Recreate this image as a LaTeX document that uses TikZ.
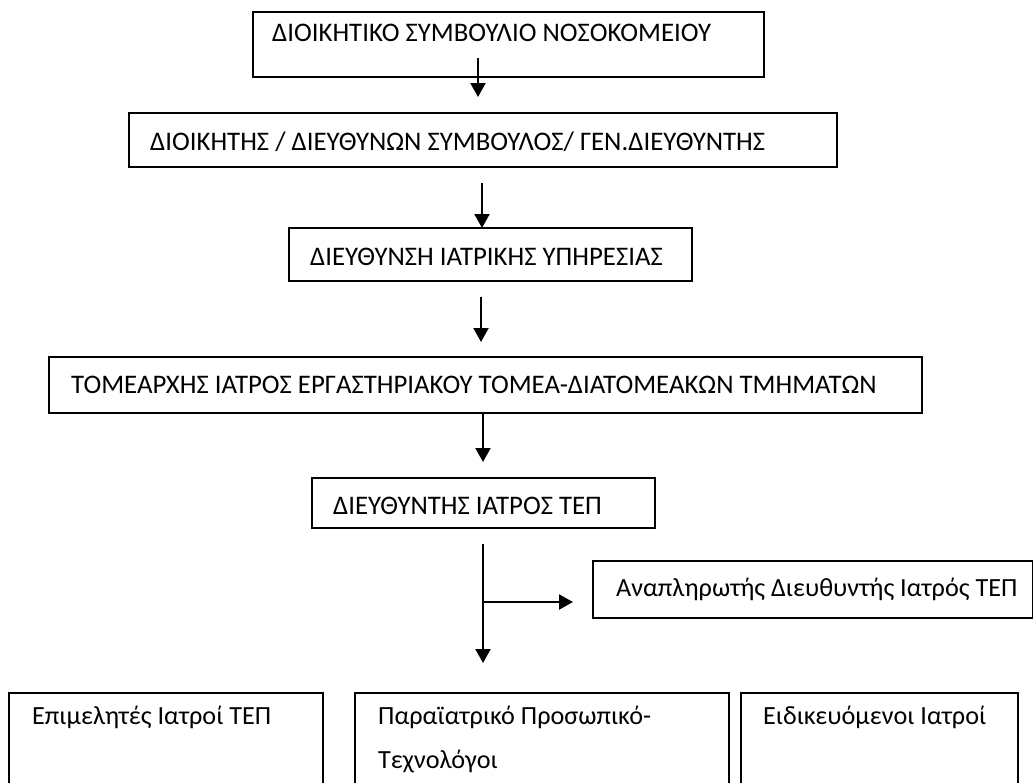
\documentclass[tikz,border=0pt]{standalone}
\usepackage{fontspec}
\setmainfont{Carlito}
\usetikzlibrary{arrows.meta}
\tikzset{
  x=1pt, y=-1pt,
  box/.style={draw=black, line width=1.8pt, anchor=north west, inner sep=0pt, outer sep=0pt},
  lbl/.style={anchor=base west, inner sep=0pt, font=\fontsize{26.8}{32}\selectfont},
  lbls/.style={anchor=base west, inner sep=0pt, font=\fontsize{26.2}{32}\selectfont},
  arr/.style={line width=2pt, -{Triangle[width=15pt,length=14pt]}}
}
\begin{document}
\begin{tikzpicture}
\useasboundingbox (0,0) rectangle (1033,782);
% boxes
\node[box, minimum width=511pt, minimum height=65pt] (b1) at (253,12) {};
\node[box, minimum width=708pt, minimum height=54pt] (b2) at (129,113) {};
\node[box, minimum width=403pt, minimum height=53pt] (b3) at (289,228) {};
\node[box, minimum width=873pt, minimum height=56pt] (b4) at (49,357) {};
\node[box, minimum width=343pt, minimum height=50pt] (b5) at (312,478) {};
\node[box, minimum width=440pt, minimum height=57pt] (b6) at (593,561) {};
\node[box, minimum width=314pt, minimum height=110pt] (b7) at (9,693) {};
\node[box, minimum width=374pt, minimum height=110pt] (b8) at (355,693) {};
\node[box, minimum width=277pt, minimum height=110pt] (b9) at (741,693) {};
% texts
\node[lbl] (t1) at (272,41) {ΔΙΟΙΚΗΤΙΚΟ ΣΥΜΒΟΥΛΙΟ ΝΟΣΟΚΟΜΕΙΟΥ};
\node[lbl] (t2) at (150,150) {ΔΙΟΙΚΗΤΗΣ / ΔΙΕΥΘΥΝΩΝ ΣΥΜΒΟΥΛΟΣ/ ΓΕΝ.ΔΙΕΥΘΥΝΤΗΣ};
\node[lbl] (t3) at (310,265) {ΔΙΕΥΘΥΝΣΗ ΙΑΤΡΙΚΗΣ ΥΠΗΡΕΣΙΑΣ};
\node[lbl] (t4) at (71,393) {ΤΟΜΕΑΡΧΗΣ ΙΑΤΡΟΣ ΕΡΓΑΣΤΗΡΙΑΚΟΥ ΤΟΜΕΑ-ΔΙΑΤΟΜΕΑΚΩΝ ΤΜΗΜΑΤΩΝ};
\node[lbl] (t5) at (333,514) {ΔΙΕΥΘΥΝΤΗΣ ΙΑΤΡΟΣ ΤΕΠ};
\node[lbls] (t6) at (616,596) {Αναπληρωτής Διευθυντής Ιατρός ΤΕΠ};
\node[lbls] (t7) at (32,724) {Επιμελητές Ιατροί ΤΕΠ};
\node[lbls] (t8) at (378,724) {Παραϊατρικό Προσωπικό-};
\node[lbls] (t8b) at (378,768) {Τεχνολόγοι};
\node[lbls] (t9) at (763,724) {Ειδικευόμενοι Ιατροί};
% connector end points
\coordinate (a1s) at (478,58);  \coordinate (a1e) at (478,97);
\coordinate (a2s) at (482,183); \coordinate (a2e) at (482,228);
\coordinate (a3s) at (481,297); \coordinate (a3e) at (481,342);
\coordinate (a4s) at (483,413); \coordinate (a4e) at (483,462);
\coordinate (a5s) at (483,544); \coordinate (a5e) at (483,663);
\coordinate (br) at (483,602);  \coordinate (bre) at (573,602);
% connectors
\draw[arr] (a1s) -- (a1e);
\draw[arr] (a2s) -- (a2e);
\draw[arr] (a3s) -- (a3e);
\draw[arr] (a4s) -- (a4e);
\draw[arr] (a5s) -- (a5e);
\draw[arr] (br) -- (bre);
\end{tikzpicture}
\end{document}
